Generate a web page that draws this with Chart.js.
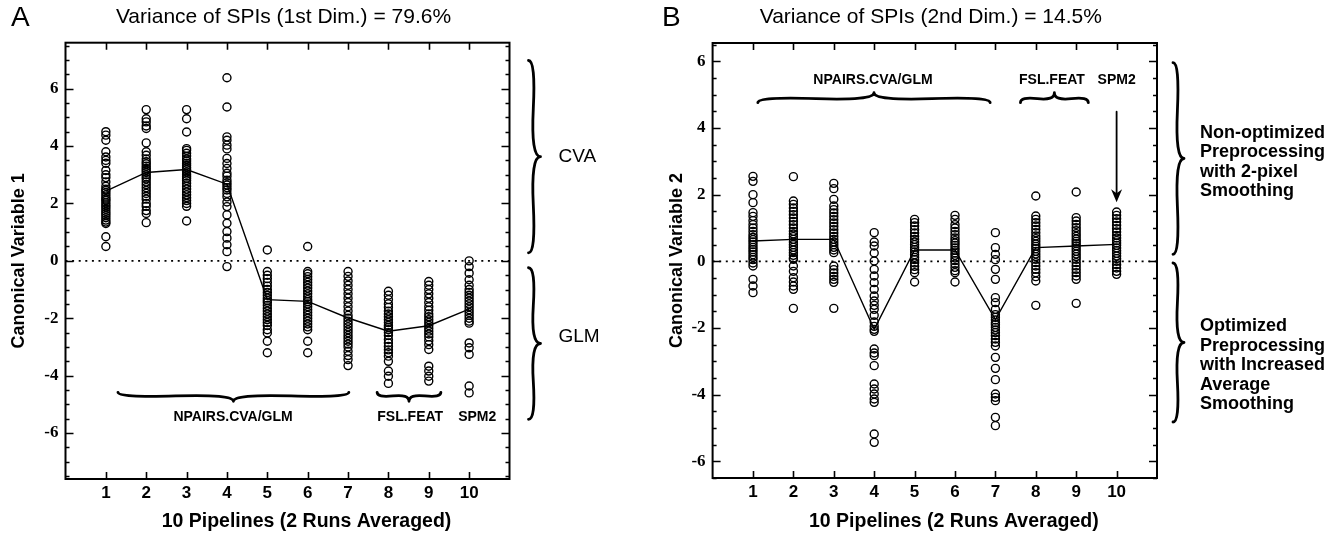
<!DOCTYPE html>
<html><head><meta charset="utf-8">
<script src="https://cdn.jsdelivr.net/npm/chart.js@4.4.1/dist/chart.umd.min.js"></script>
<style>
html,body{margin:0;padding:0;background:#fff;}
#wrap{position:relative;width:1335px;height:536px;overflow:hidden;background:#fff;}
#ca{position:absolute;left:0;top:0;}
#cb{position:absolute;left:660px;top:0;}
</style></head><body>
<div id="wrap"><canvas id="ca" width="660" height="536"></canvas><canvas id="cb" width="675" height="536"></canvas></div>
<script>
// ---------- data ----------
const pipelines = [1, 2, 3, 4, 5, 6, 7, 8, 9, 10];
const xTickLabels = ['1', '2', '3', '4', '5', '6', '7', '8', '9', '10'];
const yTickValues = [-6, -4, -2, 0, 2, 4, 6];

// Panel A : Canonical Variable 1
const a1 = [4.5, 4.38, 4.2, 3.8, 3.62, 3.5, 3.4, 3.15, 3.0, 2.9, 2.75, 2.6, 2.5, 2.45, 2.38, 2.3, 2.22, 2.15, 2.1, 2.02, 1.95, 1.88, 1.8, 1.72, 1.65, 1.58, 1.5, 1.42, 1.35, 1.3, 0.84, 0.5];
const a2 = [5.27, 4.95, 4.84, 4.7, 4.61, 4.11, 3.8, 3.68, 3.55, 3.45, 3.38, 3.3, 3.22, 3.15, 3.08, 3.0, 2.92, 2.85, 2.75, 2.65, 2.55, 2.45, 2.35, 2.25, 2.15, 2.0, 1.9, 1.75, 1.65, 1.33];
const a3 = [5.27, 4.95, 4.49, 3.91, 3.85, 3.75, 3.65, 3.55, 3.48, 3.4, 3.33, 3.25, 3.18, 3.1, 3.02, 2.95, 2.88, 2.8, 2.7, 2.6, 2.5, 2.4, 2.3, 2.2, 2.1, 2.0, 1.9, 1.39];
const a4 = [6.38, 5.36, 4.32, 4.2, 4.03, 3.9, 3.57, 3.39, 3.22, 3.05, 2.95, 2.81, 2.72, 2.64, 2.55, 2.47, 2.35, 2.23, 2.05, 1.89, 1.6, 1.31, 1.02, 0.79, 0.56, 0.32, -0.2];
const a5 = [0.38, -0.37, -0.5, -0.62, -0.75, -0.88, -1.0, -1.1, -1.2, -1.3, -1.38, -1.45, -1.55, -1.65, -1.75, -1.85, -1.95, -2.05, -2.15, -2.25, -2.4, -2.51, -2.8, -3.2];
const a6 = [0.5, -0.37, -0.45, -0.55, -0.65, -0.75, -0.85, -0.95, -1.05, -1.15, -1.25, -1.35, -1.42, -1.5, -1.6, -1.7, -1.8, -1.9, -2.0, -2.1, -2.2, -2.3, -2.4, -2.8, -3.2];
const a7 = [-0.37, -0.54, -0.7, -0.85, -1.0, -1.15, -1.3, -1.45, -1.6, -1.75, -1.9, -2.0, -2.1, -2.2, -2.3, -2.4, -2.5, -2.6, -2.7, -2.8, -2.9, -3.0, -3.15, -3.3, -3.44, -3.65];
const a8 = [-1.06, -1.2, -1.35, -1.5, -1.62, -1.75, -1.85, -1.95, -2.05, -2.15, -2.25, -2.32, -2.4, -2.5, -2.6, -2.74, -2.86, -2.98, -3.1, -3.2, -3.32, -3.5, -3.84, -4.02, -4.27];
const a9 = [-0.72, -0.85, -1.0, -1.15, -1.3, -1.45, -1.6, -1.72, -1.85, -1.95, -2.05, -2.15, -2.25, -2.35, -2.45, -2.55, -2.65, -2.78, -2.92, -3.09, -3.67, -3.84, -4.02, -4.19];
const a10 = [0.0, -0.2, -0.43, -0.66, -0.85, -1.0, -1.1, -1.2, -1.3, -1.4, -1.5, -1.6, -1.7, -1.8, -1.9, -2.0, -2.1, -2.17, -2.86, -3.03, -3.26, -4.36, -4.6];
const meanA = [2.43, 3.08, 3.18, 2.67, -1.35, -1.41, -1.99, -2.45, -2.26, -1.68];

// Panel B : Canonical Variable 2
const b1 = [2.55, 2.4, 2.0, 1.76, 1.46, 1.35, 1.22, 1.1, 1.0, 0.9, 0.8, 0.72, 0.65, 0.58, 0.5, 0.42, 0.35, 0.28, 0.2, 0.12, 0.05, -0.05, -0.14, -0.54, -0.74, -0.94];
const b2 = [2.54, 1.81, 1.71, 1.6, 1.5, 1.4, 1.3, 1.2, 1.1, 1.0, 0.9, 0.82, 0.74, 0.66, 0.58, 0.5, 0.42, 0.34, 0.26, 0.18, 0.1, 0.06, -0.14, -0.3, -0.49, -0.62, -0.74, -0.84, -1.41];
const b3 = [2.34, 2.18, 1.86, 1.66, 1.55, 1.45, 1.35, 1.25, 1.15, 1.05, 0.95, 0.85, 0.75, 0.66, 0.58, 0.5, 0.42, 0.34, 0.26, -0.14, -0.25, -0.35, -0.45, -0.54, -0.63, -1.41];
const b4 = [0.86, 0.58, 0.46, 0.25, 0.01, -0.24, -0.44, -0.64, -0.84, -1.04, -1.19, -1.32, -1.44, -1.62, -1.82, -1.95, -2.04, -2.1, -2.63, -2.75, -2.83, -3.13, -3.68, -3.83, -3.98, -4.13, -4.23, -5.18, -5.43];
const b5 = [1.26, 1.16, 1.06, 0.95, 0.85, 0.75, 0.66, 0.58, 0.5, 0.42, 0.35, 0.28, 0.2, 0.12, 0.05, -0.05, -0.15, -0.25, -0.34, -0.62];
const b6 = [1.38, 1.26, 1.1, 1.0, 0.9, 0.8, 0.7, 0.62, 0.55, 0.48, 0.4, 0.33, 0.25, 0.18, 0.1, 0.02, -0.08, -0.18, -0.28, -0.34, -0.62];
const b7 = [0.86, 0.41, 0.21, 0.05, -0.24, -0.54, -1.09, -1.24, -1.44, -1.6, -1.68, -1.76, -1.84, -1.9, -1.98, -2.06, -2.14, -2.23, -2.33, -2.43, -2.54, -2.88, -3.21, -3.55, -3.98, -4.08, -4.18, -4.68, -4.93];
const b8 = [1.96, 1.36, 1.26, 1.16, 1.06, 0.96, 0.86, 0.76, 0.68, 0.6, 0.52, 0.45, 0.38, 0.3, 0.22, 0.14, 0.06, -0.04, -0.14, -0.24, -0.34, -0.46, -0.59, -1.32];
const b9 = [2.08, 1.31, 1.21, 1.11, 1.01, 0.92, 0.83, 0.75, 0.67, 0.6, 0.53, 0.46, 0.38, 0.3, 0.22, 0.14, 0.06, -0.04, -0.14, -0.24, -0.34, -0.44, -0.54, -1.26];
const b10 = [1.48, 1.38, 1.28, 1.18, 1.08, 0.98, 0.88, 0.78, 0.7, 0.62, 0.55, 0.48, 0.4, 0.32, 0.24, 0.16, 0.08, 0.0, -0.1, -0.2, -0.3, -0.39];
const meanB = [0.61, 0.66, 0.66, -2.04, 0.34, 0.34, -1.75, 0.41, 0.46, 0.51];

// ---------- styling ----------
const SANS = "'Liberation Sans', Arial, Helvetica, sans-serif";
const SERIF = "'Liberation Serif', 'Times New Roman', serif";
const X_TITLE = '10 Pipelines (2 Runs Averaged)';

function bracePath(x1, y1, x2, y2, w, q) {
  let dx = x1 - x2, dy = y1 - y2;
  const len = Math.sqrt(dx * dx + dy * dy);
  dx /= len; dy /= len;
  const qx1 = x1 + q * w * dy, qy1 = y1 - q * w * dx;
  const qx2 = (x1 - .25 * len * dx) + (1 - q) * w * dy, qy2 = (y1 - .25 * len * dy) - (1 - q) * w * dx;
  const tx1 = (x1 - .5 * len * dx) + w * dy, ty1 = (y1 - .5 * len * dy) - w * dx;
  const qx3 = x2 + q * w * dy, qy3 = y2 - q * w * dx;
  const qx4 = (x1 - .75 * len * dx) + (1 - q) * w * dy, qy4 = (y1 - .75 * len * dy) - (1 - q) * w * dx;
  return new Path2D(`M ${x1} ${y1} Q ${qx1} ${qy1} ${qx2} ${qy2} T ${tx1} ${ty1} M ${x2} ${y2} Q ${qx3} ${qy3} ${qx4} ${qy4} T ${tx1} ${ty1}`);
}

function framePlugin(cfg) {
  return {
    id: 'frame' + cfg.id,
    afterDraw(chart) {
      const ctx = chart.ctx;
      const { left, right, top, bottom } = chart.chartArea;
      const xs = chart.scales.x, ys = chart.scales.y;
      ctx.save();
      ctx.strokeStyle = '#000';
      ctx.fillStyle = '#000';
      ctx.lineWidth = 2;
      ctx.strokeRect(left, top, right - left, bottom - top);
      // x ticks (inward, bottom and top)
      ctx.lineWidth = 1.6;
      ctx.beginPath();
      pipelines.forEach(v => {
        const px = Math.round(xs.getPixelForValue(v)) + 0.5;
        ctx.moveTo(px, bottom); ctx.lineTo(px, bottom - 7);
        ctx.moveTo(px, top); ctx.lineTo(px, top + 7);
      });
      // y ticks every 0.5 (inward, left and right)
      const start = Math.ceil(cfg.yMin * 2) / 2;
      for (let v = start; v <= cfg.yMax + 1e-9; v += 0.5) {
        const py = Math.round(ys.getPixelForValue(v)) + 0.5;
        const len = (Math.abs(v % 2) < 1e-9) ? 8 : 4;
        ctx.moveTo(left, py); ctx.lineTo(left + len, py);
        ctx.moveTo(right, py); ctx.lineTo(right - len, py);
      }
      ctx.stroke();

      // panel letter, title, x-axis title
      ctx.textBaseline = 'middle';
      ctx.textAlign = 'left';
      ctx.font = `28px ${SANS}`;
      ctx.fillText(cfg.letter, cfg.letterX, 18);
      ctx.textAlign = 'center';
      ctx.font = `21px ${SANS}`;
      ctx.fillText(cfg.title, (left + right) / 2 - 4, 17);
      ctx.font = `bold 19.5px ${SANS}`;
      ctx.fillText(X_TITLE, (left + right) / 2 + 19, 522);

      // group braces and labels inside plot
      ctx.lineWidth = 2.8;
      ctx.lineCap = 'round';
      cfg.braces.forEach(b => {
        const x1 = xs.getPixelForValue(b.x1), x2 = xs.getPixelForValue(b.x2);
        const y = ys.getPixelForValue(b.y);
        ctx.stroke(bracePath(x1, y, x2, y, b.w, 0.6));
      });
      ctx.font = `bold 14px ${SANS}`;
      cfg.groupLabels.forEach(l => {
        ctx.fillText(l.text, xs.getPixelForValue(l.x), ys.getPixelForValue(l.y));
      });
      if (cfg.arrow) {
        const ax = xs.getPixelForValue(cfg.arrow.x);
        const ay1 = ys.getPixelForValue(cfg.arrow.y1), ay2 = ys.getPixelForValue(cfg.arrow.y2);
        ctx.lineWidth = 1.8;
        ctx.beginPath(); ctx.moveTo(ax, ay1); ctx.lineTo(ax, ay2 - 6); ctx.stroke();
        ctx.beginPath(); ctx.moveTo(ax - 5.5, ay2 - 13); ctx.lineTo(ax, ay2 - 9); ctx.lineTo(ax + 5.5, ay2 - 13); ctx.lineTo(ax, ay2); ctx.closePath(); ctx.fill();
      }

      // side braces and labels (right of plot)
      ctx.lineWidth = 2.8;
      cfg.sideBraces.forEach(b => {
        const x = right + cfg.sideBraceDx;
        ctx.stroke(bracePath(x, ys.getPixelForValue(b.y2), x, ys.getPixelForValue(b.y1), cfg.sideBraceW, 0.6));
      });
      ctx.textAlign = 'left';
      ctx.font = cfg.sideFont;
      cfg.sideLabels.forEach(l => {
        const y0 = ys.getPixelForValue(l.y);
        l.lines.forEach((t, i) => ctx.fillText(t, right + cfg.sideTextDx, y0 + i * cfg.sideLineH));
      });
      ctx.restore();
    }
  };
}

function makeChart(cfg) {
  const pts = [];
  cfg.series.forEach((arr, i) => arr.forEach(v => pts.push({ x: pipelines[i], y: v })));
  const meanPts = cfg.means.map((v, i) => ({ x: pipelines[i], y: v }));
  return new Chart(document.getElementById(cfg.canvas), {
    type: 'scatter',
    data: {
      datasets: [
        { label: 'zero', data: [{ x: 0, y: 0 }, { x: 11, y: 0 }], showLine: true, borderColor: '#000', borderWidth: 1.7, borderDash: [2, 4.6], pointRadius: 0, order: 3 },
        { label: 'mean', data: meanPts, showLine: true, borderColor: '#000', borderWidth: 1.4, pointRadius: 0, order: 2 },
        { label: 'scores', data: pts, showLine: false, pointStyle: 'circle', pointRadius: 4, borderWidth: 1.4, borderColor: '#000', backgroundColor: 'rgba(0,0,0,0)', order: 1 }
      ]
    },
    options: {
      responsive: false, animation: false, events: [],
      layout: { padding: { left: 0, top: cfg.top, right: cfg.padRight, bottom: 0 } },
      plugins: { legend: { display: false }, tooltip: { enabled: false }, title: { display: false } },
      scales: {
        x: {
          type: 'linear', min: 0, max: 11,
          grid: { display: false, drawTicks: false }, border: { display: false },
          afterBuildTicks: s => { s.ticks = pipelines.map(v => ({ value: v })); },
          afterFit: s => { s.height = cfg.xAxisH; },
          ticks: { padding: 4, color: '#000', autoSkip: false, maxRotation: 0,
                   font: { family: SANS, size: 17, weight: 'bold' },
                   callback: v => xTickLabels[pipelines.indexOf(v)] ?? '' },
          title: { display: false }
        },
        y: {
          type: 'linear', min: cfg.yMin, max: cfg.yMax,
          grid: { display: false, drawTicks: false }, border: { display: false },
          afterBuildTicks: s => { s.ticks = yTickValues.map(v => ({ value: v })); },
          afterFit: s => { s.width = cfg.yAxisW; },
          ticks: { padding: 7, color: '#000', font: { family: SERIF, size: 17, weight: 'bold' },
                   callback: v => String(v) },
          title: { display: true, text: cfg.yTitle, color: '#000',
                   font: { family: SANS, size: 18, weight: 'bold' }, padding: { top: cfg.yTitlePad, bottom: 0 } }
        }
      }
    },
    plugins: [framePlugin(cfg)]
  });
}

makeChart({
  id: 'A', canvas: 'ca', letter: 'A', letterX: 11,
  title: 'Variance of SPIs (1st Dim.) = 79.6%',
  yTitle: 'Canonical Variable 1',
  series: [a1, a2, a3, a4, a5, a6, a7, a8, a9, a10], means: meanA,
  yMin: -7.6, yMax: 7.6,
  top: 42.7, padRight: 150.5, xAxisH: 57, yAxisW: 65.5, yTitlePad: 8,
  braces: [{ x1: 1.3, x2: 7.02, y: -4.58, w: 9 }, { x1: 7.72, x2: 9.3, y: -4.58, w: 9 }],
  groupLabels: [{ text: 'NPAIRS.CVA/GLM', x: 4.15, y: -5.45 }, { text: 'FSL.FEAT', x: 8.54, y: -5.45 }, { text: 'SPM2', x: 10.2, y: -5.45 }],
  sideBraces: [{ y1: 6.98, y2: 0.28 }, { y1: -0.24, y2: -5.52 }],
  sideBraceDx: 19, sideBraceW: 12,
  sideLabels: [{ lines: ['CVA'], y: 3.61 }, { lines: ['GLM'], y: -2.64 }],
  sideTextDx: 49, sideLineH: 20, sideFont: `19px ${SANS}`
});

makeChart({
  id: 'B', canvas: 'cb', letter: 'B', letterX: 2,
  title: 'Variance of SPIs (2nd Dim.) = 14.5%',
  yTitle: 'Canonical Variable 2',
  series: [b1, b2, b3, b4, b5, b6, b7, b8, b9, b10], means: meanB,
  yMin: -6.5, yMax: 6.55,
  top: 43, padRight: 178, xAxisH: 58, yAxisW: 52.6, yTitlePad: 6,
  braces: [{ x1: 1.12, x2: 6.87, y: 4.76, w: -10 }, { x1: 7.62, x2: 9.3, y: 4.76, w: -10 }],
  groupLabels: [{ text: 'NPAIRS.CVA/GLM', x: 3.97, y: 5.45 }, { text: 'FSL.FEAT', x: 8.4, y: 5.45 }, { text: 'SPM2', x: 10.0, y: 5.45 }],
  arrow: { x: 10, y1: 4.49, y2: 1.77 },
  sideBraces: [{ y1: 5.96, y2: 0.21 }, { y1: -0.05, y2: -4.82 }],
  sideBraceDx: 16, sideBraceW: 11,
  sideLabels: [{ lines: ['Non-optimized', 'Preprocessing', 'with 2-pixel', 'Smoothing'], y: 3.86 },
               { lines: ['Optimized', 'Preprocessing', 'with Increased', 'Average', 'Smoothing'], y: -1.95 }],
  sideTextDx: 43, sideLineH: 19.5, sideFont: `bold 18px ${SANS}`
});
</script>
</body></html>
